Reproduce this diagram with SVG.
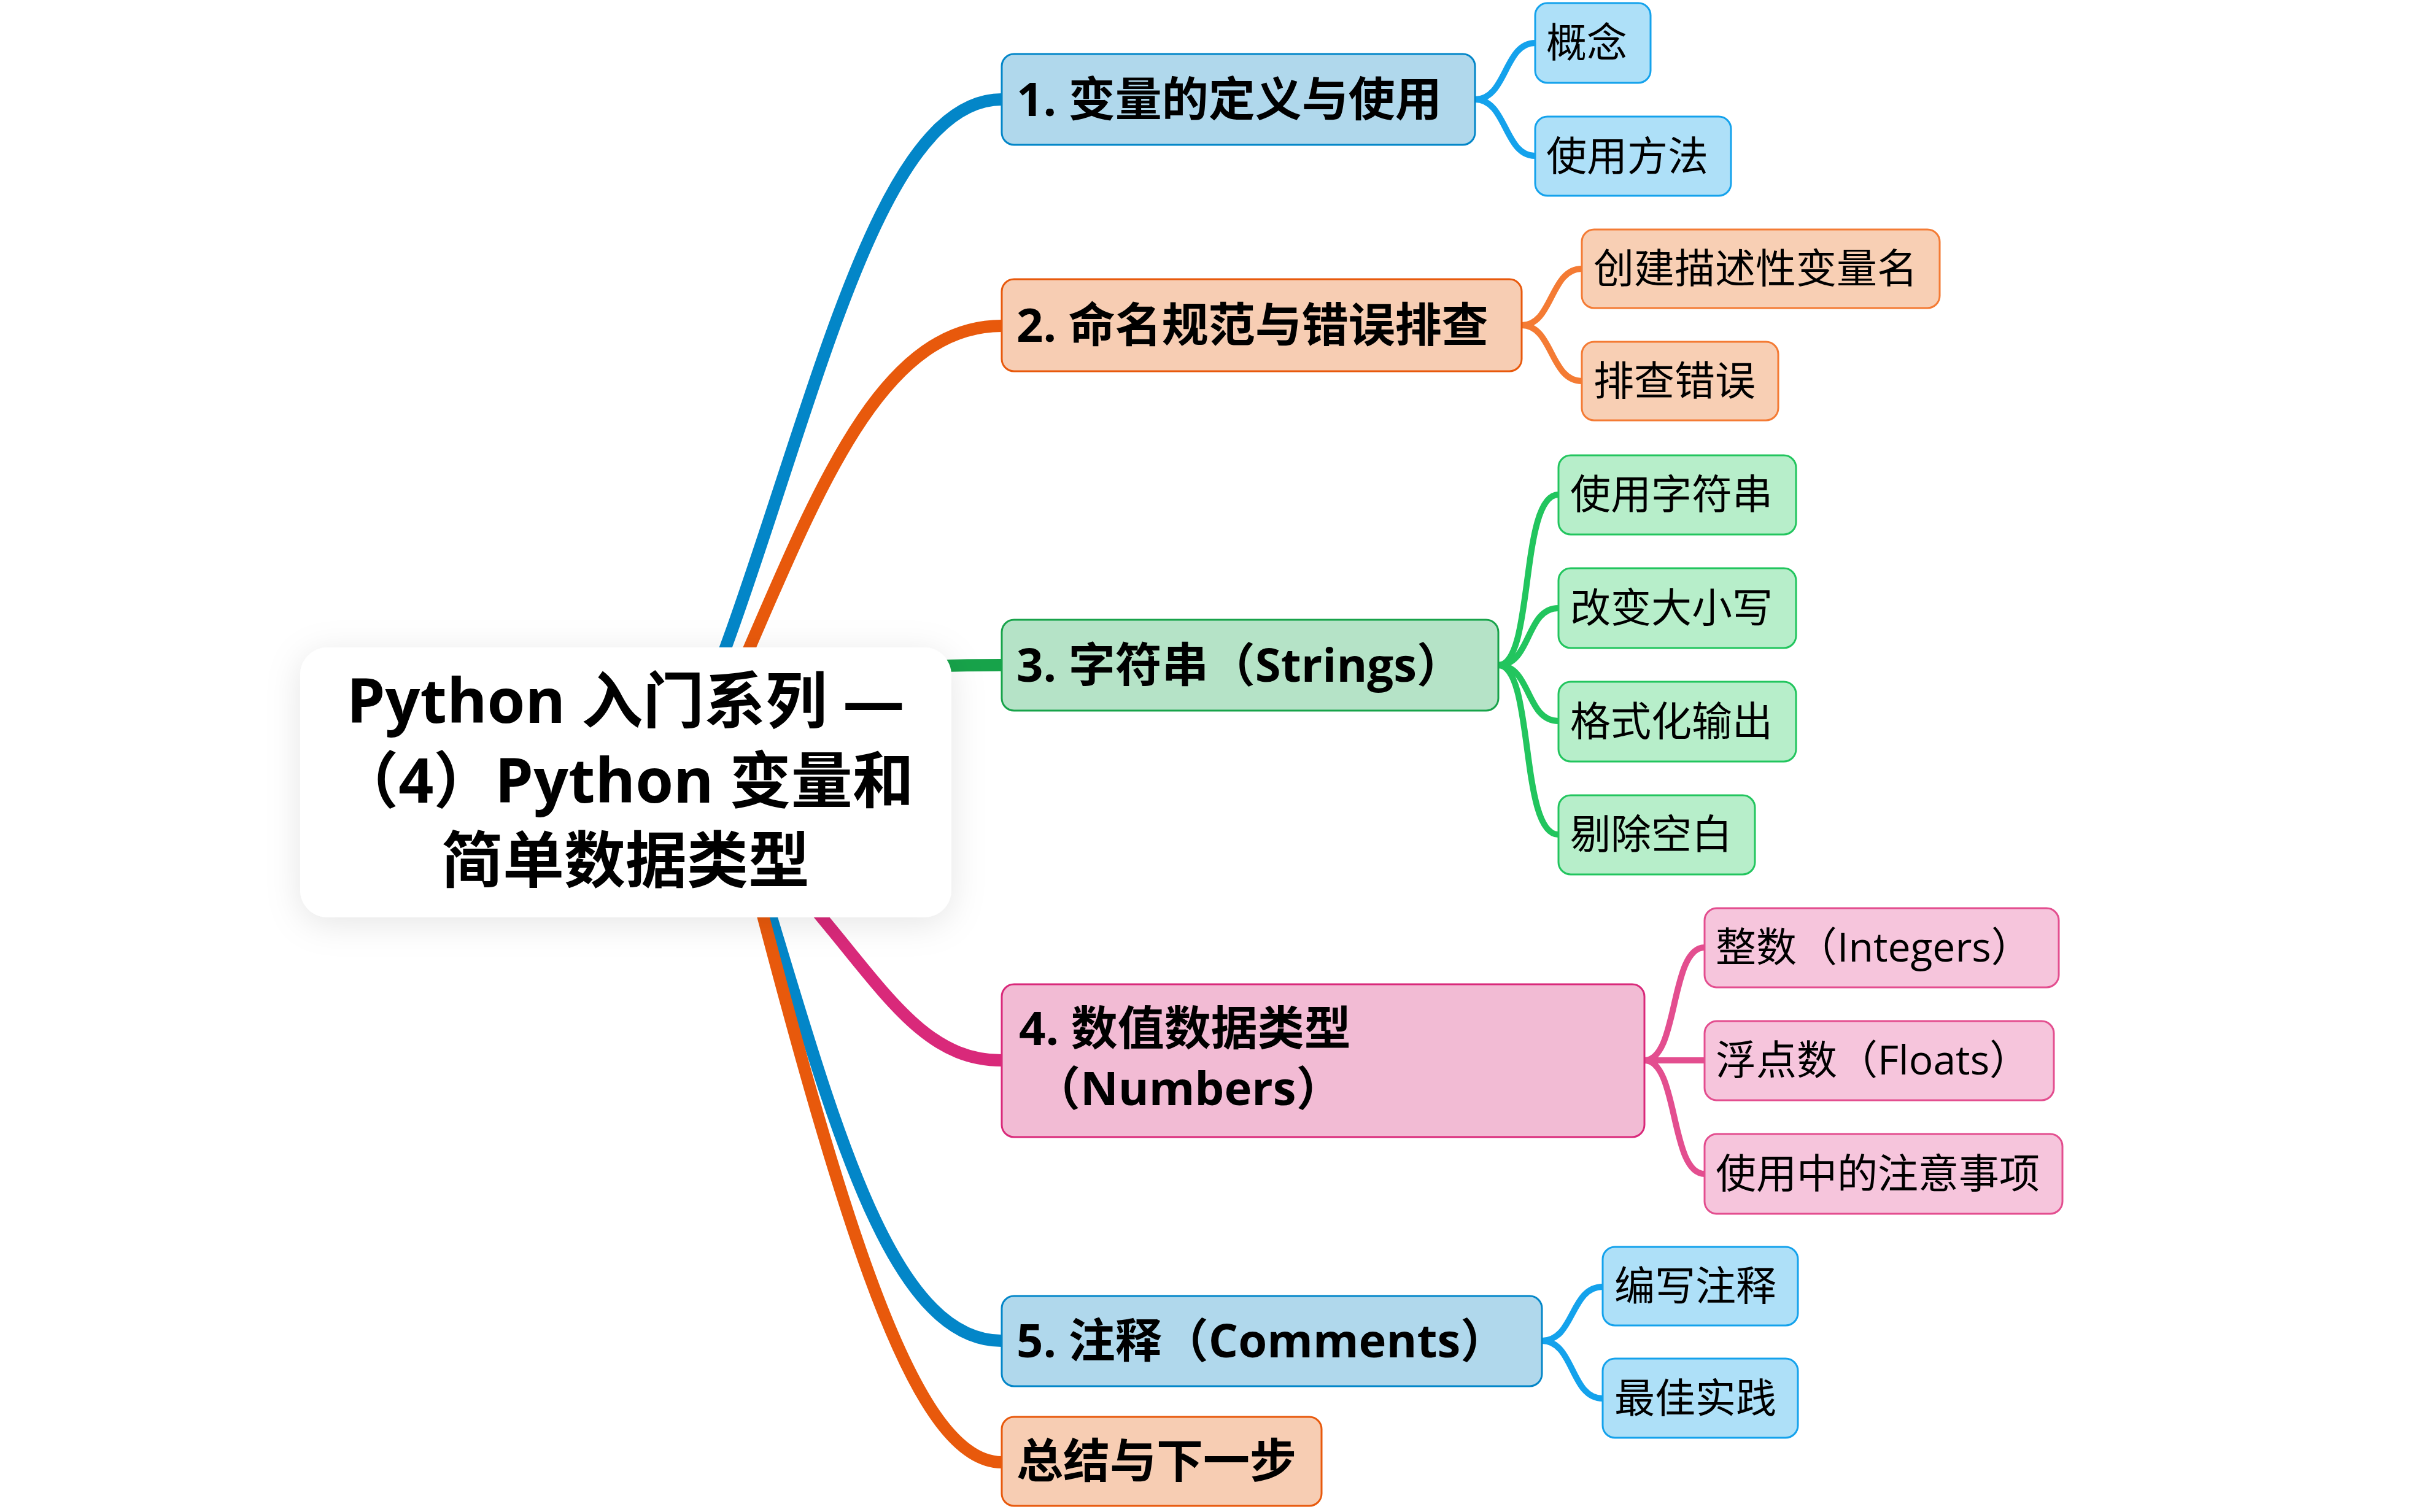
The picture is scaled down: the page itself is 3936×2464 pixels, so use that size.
<svg xmlns="http://www.w3.org/2000/svg" width="3936" height="2464" viewBox="0 0 3936 2464">
<defs>
<filter id="shadow" x="-20%" y="-30%" width="140%" height="160%">
<feDropShadow dx="0" dy="10" stdDeviation="28" flood-color="#000" flood-opacity="0.10"/>
</filter>
<style>
text{font-family:"Open Sans","Noto Sans CJK SC",sans-serif;fill:#000}
.title{font-size:100px;font-weight:700;text-anchor:middle}
.main{font-size:76px;font-weight:700}
.sub{font-size:66px;font-weight:400}
.c{fill:none;stroke-linecap:round}
.m{stroke-width:20}
.s{stroke-width:10}
.nb{stroke-width:3}
.blueM{stroke:#0386c8}.blueN{fill:#b0d8ec;stroke:#0386c8}
.blueS{stroke:#14a2ec}.blueSN{fill:#aee0f8;stroke:#14a2ec}
.orM{stroke:#e8590c}.orN{fill:#f7cdb3;stroke:#e8590c}
.orS{stroke:#f47b34}.orSN{fill:#f8cfb4;stroke:#f47b34}
.grM{stroke:#17a34a}.grN{fill:#b5e3c7;stroke:#17a34a}
.grS{stroke:#22c55e}.grSN{fill:#b7eeca;stroke:#22c55e}
.pkM{stroke:#d9297a}.pkN{fill:#f2bbd4;stroke:#d9297a}
.pkS{stroke:#e34e8f}.pkSN{fill:#f6c5dc;stroke:#e34e8f}
</style>
</defs>
<rect width="3936" height="2464" fill="#ffffff"/>

<g id="connectors">
<path class="c m blueM" d="M1100 1260 C1300 820 1400 162 1632 162"/>
<path class="c m orM" d="M1130 1260 C1300 900 1400 531 1632 531"/>
<path class="c m grM" d="M1300 1100 C1450 1088 1500 1084 1632 1084"/>
<path class="c m pkM" d="M1100 1250 C1400 1500 1450 1728 1632 1728"/>
<path class="c m blueM" d="M1180 1250 C1330 1700 1420 2185 1632 2185"/>
<path class="c m orM" d="M1180 1250 C1360 1950 1480 2383 1632 2383"/>

<path class="c s blueS" d="M2403 162 C2455 162 2450 70 2501 70"/>
<path class="c s blueS" d="M2403 162 C2455 162 2450 254 2501 254"/>
<path class="c s orS" d="M2479 530 C2530 530 2525 438 2577 438"/>
<path class="c s orS" d="M2479 530 C2530 530 2525 621 2577 621"/>
<path class="c s grS" d="M2441 1084 C2500 1084 2475 806 2539 806"/>
<path class="c s grS" d="M2441 1084 C2495 1084 2485 991 2539 991"/>
<path class="c s grS" d="M2441 1084 C2495 1084 2485 1175 2539 1175"/>
<path class="c s grS" d="M2441 1084 C2500 1084 2475 1360 2539 1360"/>
<path class="c s pkS" d="M2679 1728 C2735 1728 2720 1544 2777 1544"/>
<path class="c s pkS" d="M2679 1728 L2777 1728"/>
<path class="c s pkS" d="M2679 1728 C2735 1728 2720 1913 2777 1913"/>
<path class="c s blueS" d="M2512 2185 C2565 2185 2558 2097 2611 2097"/>
<path class="c s blueS" d="M2512 2185 C2565 2185 2558 2279 2611 2279"/>
</g>

<g id="root">
<rect x="489" y="1055" width="1061" height="440" rx="45" fill="#ffffff" filter="url(#shadow)"/>
<text class="title" x="1019" y="1178">Python 入门系列 —</text>
<text class="title" x="1019" y="1308">（4）Python 变量和</text>
<text class="title" x="1019" y="1438">简单数据类型</text>
</g>

<g id="n1">
<rect class="blueN nb" x="1632" y="88" width="771" height="148" rx="20"/>
<text class="main" x="1656" y="189">1. 变量的定义与使用</text>
</g>
<g id="n1a">
<rect class="blueSN nb" x="2501" y="5" width="188" height="130" rx="20"/>
<text class="sub" x="2519" y="93">概念</text>
</g>
<g id="n1b">
<rect class="blueSN nb" x="2501" y="190" width="319" height="129" rx="20"/>
<text class="sub" x="2519" y="278">使用方法</text>
</g>

<g id="n2">
<rect class="orN nb" x="1632" y="455" width="847" height="150" rx="20"/>
<text class="main" x="1656" y="557">2. 命名规范与错误排查</text>
</g>
<g id="n2a">
<rect class="orSN nb" x="2577" y="374" width="583" height="128" rx="20"/>
<text class="sub" x="2596" y="461">创建描述性变量名</text>
</g>
<g id="n2b">
<rect class="orSN nb" x="2577" y="557" width="320" height="128" rx="20"/>
<text class="sub" x="2596" y="644">排查错误</text>
</g>

<g id="n3">
<rect class="grN nb" x="1632" y="1010" width="809" height="148" rx="20"/>
<text class="main" x="1656" y="1111">3. 字符串（Strings）</text>
</g>
<g id="n3a">
<rect class="grSN nb" x="2539" y="742" width="387" height="129" rx="20"/>
<text class="sub" x="2558" y="829">使用字符串</text>
</g>
<g id="n3b">
<rect class="grSN nb" x="2539" y="926" width="387" height="130" rx="20"/>
<text class="sub" x="2558" y="1014">改变大小写</text>
</g>
<g id="n3c">
<rect class="grSN nb" x="2539" y="1111" width="387" height="130" rx="20"/>
<text class="sub" x="2558" y="1199">格式化输出</text>
</g>
<g id="n3d">
<rect class="grSN nb" x="2539" y="1296" width="320" height="129" rx="20"/>
<text class="sub" x="2558" y="1383">剔除空白</text>
</g>

<g id="n4">
<rect class="pkN nb" x="1632" y="1604" width="1047" height="249" rx="20"/>
<text class="main" x="1660" y="1703">4. 数值数据类型</text>
<text class="main" x="1684" y="1801">（Numbers）</text>
</g>
<g id="n4a">
<rect class="pkSN nb" x="2777" y="1480" width="577" height="129" rx="20"/>
<text class="sub" x="2795" y="1567">整数（Integers）</text>
</g>
<g id="n4b">
<rect class="pkSN nb" x="2777" y="1664" width="569" height="129" rx="20"/>
<text class="sub" x="2795" y="1751">浮点数（Floats）</text>
</g>
<g id="n4c">
<rect class="pkSN nb" x="2777" y="1848" width="583" height="130" rx="20"/>
<text class="sub" x="2795" y="1936">使用中的注意事项</text>
</g>

<g id="n5">
<rect class="blueN nb" x="1632" y="2112" width="880" height="147" rx="20"/>
<text class="main" x="1656" y="2212">5. 注释（Comments）</text>
</g>
<g id="n5a">
<rect class="blueSN nb" x="2611" y="2032" width="318" height="128" rx="20"/>
<text class="sub" x="2630" y="2119">编写注释</text>
</g>
<g id="n5b">
<rect class="blueSN nb" x="2611" y="2214" width="318" height="129" rx="20"/>
<text class="sub" x="2630" y="2302">最佳实践</text>
</g>

<g id="n6">
<rect class="orN nb" x="1632" y="2309" width="521" height="145" rx="20"/>
<text class="main" x="1656" y="2408">总结与下一步</text>
</g>
</svg>
